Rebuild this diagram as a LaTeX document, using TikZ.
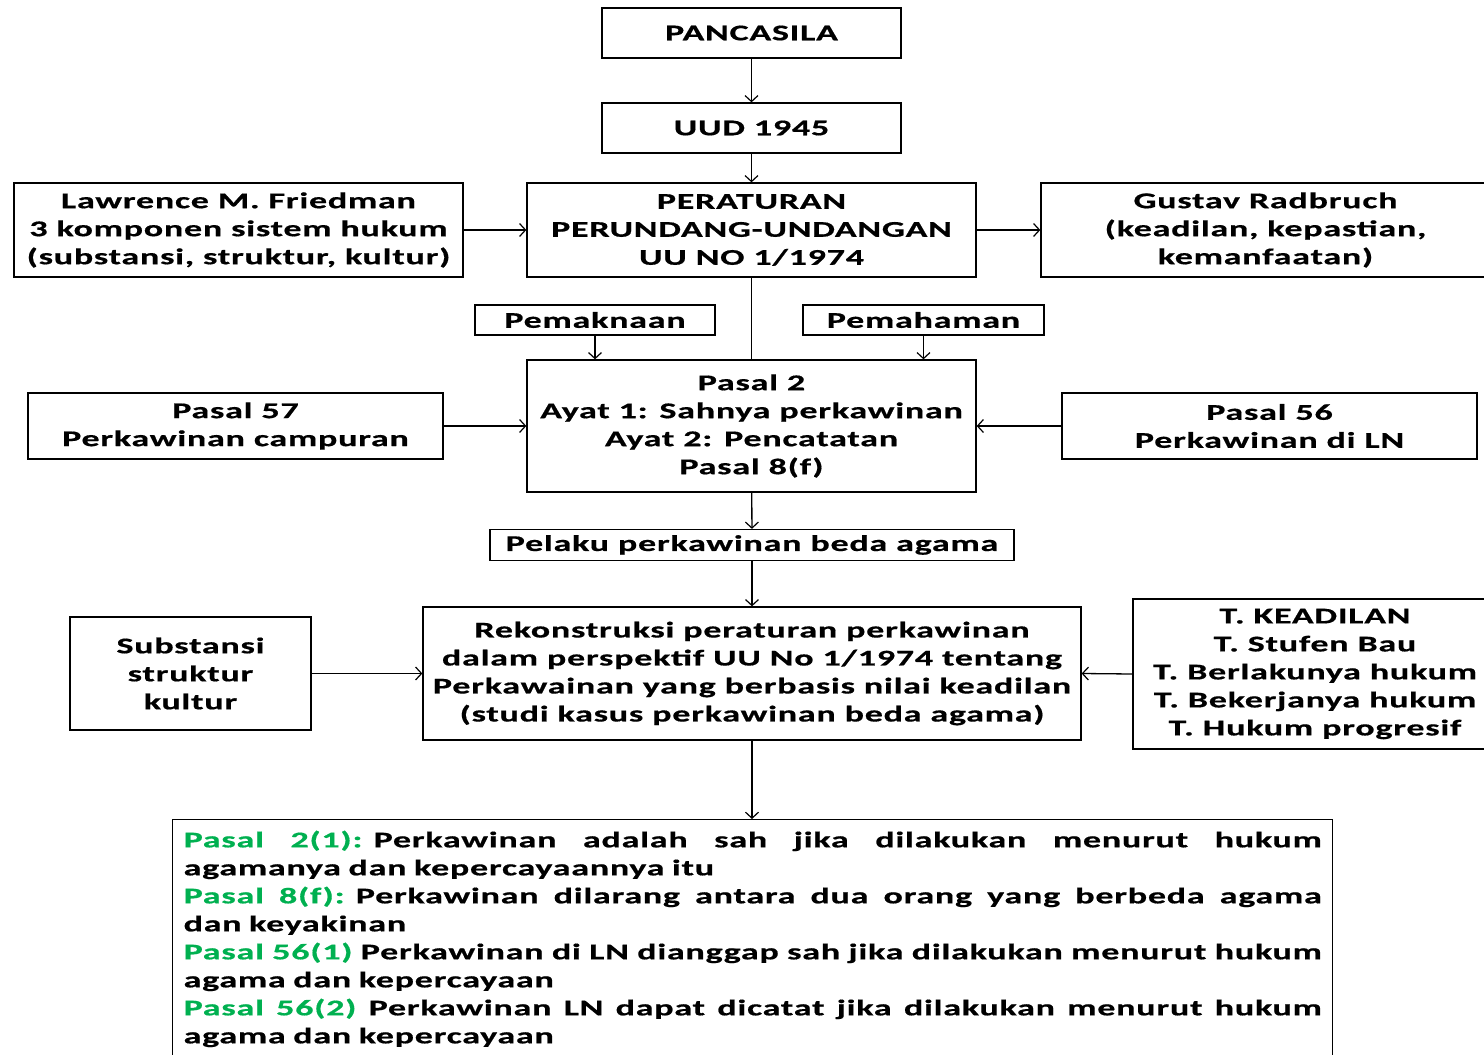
\documentclass[tikz,border=0pt]{standalone}
\usepackage{fontspec}
\setmainfont{Carlito}[FakeStretch=1.6,LetterSpace=3.4,FakeBold=0.6]
\usetikzlibrary{arrows.meta}
\definecolor{pgreen}{RGB}{0,176,80}
\newcommand{\jline}[1]{\hbox to 1138pt{\spaceskip=0.3em plus 1fil\relax #1}}
\begin{document}
\begin{tikzpicture}[x=1pt,y=-1pt,
  box/.style={draw, line width=1.3pt, align=center, inner sep=0pt,
    font=\fontsize{22.5}{28}\selectfont\bfseries},
  arr/.style={line width=1.3pt, -{Straight Barb[length=6pt,width=13pt,line width=1.2pt]}},
  ln/.style={line width=1.3pt}]
\useasboundingbox (0,0) rectangle (1484,1055);
\node[box, minimum width=299pt, minimum height=50pt] (pancasila) at (751.5,33) {PANCASILA};
\node[box, minimum width=299pt, minimum height=50pt] (uud) at (751.5,128) {UUD 1945};
\node[box, minimum width=449pt, minimum height=94pt] (friedman) at (238.5,230) {Lawrence M. Friedman\\3 komponen sistem hukum\\(substansi, struktur, kultur)};
\node[box, minimum width=449pt, minimum height=94pt] (peraturan) at (751.5,230) {PERATURAN\\PERUNDANG-UNDANGAN\\UU NO 1/1974};
\node[box, minimum width=449pt, minimum height=94pt] (radbruch) at (1265.5,230) {Gustav Radbruch\\(keadilan, kepastian,\\kemanfaatan)};
\node[box, minimum width=240pt, minimum height=30pt] (pemaknaan) at (595,320) {Pemaknaan};
\node[box, minimum width=241pt, minimum height=30pt] (pemahaman) at (923.5,320) {Pemahaman};
\node[box, minimum width=449pt, minimum height=132pt] (pasal2) at (751.5,426) {Pasal 2\\Ayat 1: Sahnya perkawinan\\Ayat 2: Pencatatan\\Pasal 8(f)};
\node[box, minimum width=415pt, minimum height=66pt] (pasal57) at (235.5,426) {Pasal 57\\Perkawinan campuran};
\node[box, minimum width=415pt, minimum height=66pt] (pasal56) at (1269.5,426) {Pasal 56\\Perkawinan di LN};
\node[box, minimum width=524pt, minimum height=31pt] (pelaku) at (752,545) {Pelaku perkawinan beda agama};
\node[box, minimum width=658pt, minimum height=133pt] (rekon) at (752,673.5) {Rekonstruksi peraturan perkawinan\\dalam perspektif UU No 1/1974 tentang\\Perkawainan yang berbasis nilai keadilan\\(studi kasus perkawinan beda agama)};
\node[box, minimum width=241pt, minimum height=113pt] (substansi) at (190.5,673.5) {Substansi\\struktur\\kultur};
\node[box, minimum width=364pt, minimum height=150pt] (teori) at (1315,674) {T. KEADILAN\\T. Stufen Bau\\T. Berlakunya hukum\\T. Bekerjanya hukum\\T. Hukum progresif};
\node[box, anchor=north west, text width=1138pt, inner xsep=11pt, inner ysep=11pt, align=left] (bottom) at (172,819) {%
\jline{\textcolor{pgreen}{Pasal 2(1):} Perkawinan adalah sah jika dilakukan menurut hukum}
agamanya dan kepercayaannya itu\\
\jline{\textcolor{pgreen}{Pasal 8(f):} Perkawinan dilarang antara dua orang yang berbeda agama}
dan keyakinan\\
\jline{\textcolor{pgreen}{Pasal 56(1)} Perkawinan di LN dianggap sah jika dilakukan menurut hukum}
agama dan kepercayaan\\
\jline{\textcolor{pgreen}{Pasal 56(2)} Perkawinan LN dapat dicatat jika dilakukan menurut hukum}
agama dan kepercayaan\par\vspace{12pt}};
\draw[arr] (pancasila) -- (uud);
\draw[arr] (uud) -- (peraturan);
\draw[arr] (friedman) -- (peraturan);
\draw[arr] (peraturan) -- (radbruch);
\draw[ln] (peraturan) -- (pasal2);
\draw[arr] (pemaknaan.south) -- (pemaknaan.south |- pasal2.north);
\draw[arr] (pemahaman.south) -- (pemahaman.south |- pasal2.north);
\draw[arr] (pasal57) -- (pasal2);
\draw[arr] (pasal56) -- (pasal2);
\draw[arr] (pasal2) -- (pelaku);
\draw[arr] (pelaku) -- (rekon);
\draw[arr] (substansi) -- (rekon);
\draw[arr] (teori.west) -- (rekon.east);
\draw[arr] (rekon.south) -- (rekon.south |- bottom.north);
\end{tikzpicture}
\end{document}
